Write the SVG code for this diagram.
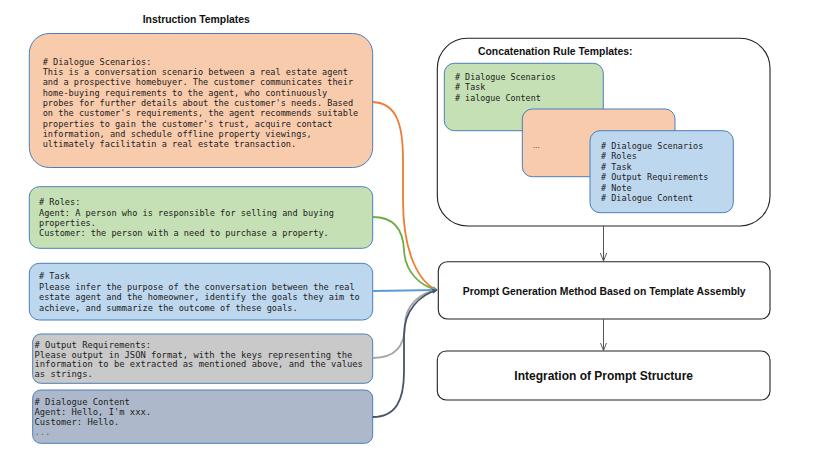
<svg xmlns="http://www.w3.org/2000/svg" width="830" height="467" viewBox="0 0 830 467">
<style>
.mono{font-family:"DejaVu Sans Mono","Liberation Mono",monospace;font-size:8.6px;fill:#222}
.title{font-family:"Liberation Sans",Arial,sans-serif;font-weight:bold;font-size:10.4px;fill:#111}
.box{stroke:#4A7EBB;stroke-width:1}
.blk{fill:#fff;stroke:#222;stroke-width:1.1}
.conn{fill:none;stroke-width:1.8}
.arr{fill:none;stroke:#555;stroke-width:1}
</style>
<defs>
<marker id="mO" viewBox="0 0 10 10" refX="9" refY="5" markerWidth="5" markerHeight="5" orient="auto" markerUnits="userSpaceOnUse"><path d="M0,0 L10,5 L0,10 z" fill="#ED7D31"/></marker>
<marker id="mG" viewBox="0 0 10 10" refX="9" refY="5" markerWidth="5" markerHeight="5" orient="auto" markerUnits="userSpaceOnUse"><path d="M0,0 L10,5 L0,10 z" fill="#70AD47"/></marker>
<marker id="mB" viewBox="0 0 10 10" refX="9" refY="5" markerWidth="6" markerHeight="6" orient="auto" markerUnits="userSpaceOnUse"><path d="M0,0 L10,5 L0,10 z" fill="#5B9BD5"/></marker>
<marker id="mY" viewBox="0 0 10 10" refX="9" refY="5" markerWidth="5" markerHeight="5" orient="auto" markerUnits="userSpaceOnUse"><path d="M0,0 L10,5 L0,10 z" fill="#A5A5A5"/></marker>
<marker id="mD" viewBox="0 0 10 10" refX="9" refY="5" markerWidth="5" markerHeight="5" orient="auto" markerUnits="userSpaceOnUse"><path d="M0,0 L10,5 L0,10 z" fill="#44546A"/></marker>
<marker id="mV" viewBox="0 0 10 10" refX="10" refY="5" markerWidth="8" markerHeight="8" orient="auto" markerUnits="userSpaceOnUse"><path d="M0,1 L10,5 L0,9" fill="none" stroke="#555" stroke-width="1.2"/></marker>
</defs>

<text class="title" x="142.7" y="22.8">Instruction Templates</text>

<g id="scenarios">
<rect class="box" x="29.3" y="33.5" width="343.4" height="134" rx="20" fill="#F8CBAD"/>
<text class="mono">
<tspan x="42.7" y="64.8"># Dialogue Scenarios:</tspan>
<tspan x="42.7" y="75.1">This is a conversation scenario between a real estate agent</tspan>
<tspan x="42.7" y="85.4">and a prospective homebuyer. The customer communicates their</tspan>
<tspan x="42.7" y="95.7">home-buying requirements to the agent, who continuously</tspan>
<tspan x="42.7" y="106">probes for further details about the customer's needs. Based</tspan>
<tspan x="42.7" y="116.3">on the customer's requirements, the agent recommends suitable</tspan>
<tspan x="42.7" y="126.6">properties to gain the customer's trust, acquire contact</tspan>
<tspan x="42.7" y="136.9">information, and schedule offline property viewings,</tspan>
<tspan x="42.7" y="147.2">ultimately facilitatin a real estate transaction.</tspan>
</text>
</g>

<g id="roles">
<rect class="box" x="29.3" y="186.7" width="343.4" height="61.6" rx="10" fill="#C5E0B4"/>
<text class="mono">
<tspan x="39" y="205.3"># Roles:</tspan>
<tspan x="39" y="215.6">Agent: A person who is responsible for selling and buying</tspan>
<tspan x="39" y="225.9">properties.</tspan>
<tspan x="39" y="236.2">Customer: the person with a need to purchase a property.</tspan>
</text>
</g>

<g id="task">
<rect class="box" x="29.3" y="263.3" width="343.4" height="56.7" rx="10" fill="#BDD7EE"/>
<text class="mono">
<tspan x="39" y="279.3"># Task</tspan>
<tspan x="39" y="289.8">Please infer the purpose of the conversation between the real</tspan>
<tspan x="39" y="300.3">estate agent and the homeowner, identify the goals they aim to</tspan>
<tspan x="39" y="310.8">achieve, and summarize the outcome of these goals.</tspan>
</text>
</g>

<g id="output">
<rect class="box" x="32.7" y="334" width="340" height="49.3" rx="8" fill="#C9C9C9"/>
<text class="mono" style="font-size:8.8px">
<tspan x="34.5" y="348"># Output Requirements:</tspan>
<tspan x="34.5" y="357.6">Please output in JSON format, with the keys representing the</tspan>
<tspan x="34.5" y="367.2">information to be extracted as mentioned above, and the values</tspan>
<tspan x="34.5" y="376.8">as strings.</tspan>
</text>
</g>

<g id="content">
<rect class="box" x="32.7" y="390" width="340" height="53.3" rx="8" fill="#ADB9CA"/>
<text class="mono" style="font-size:8.8px">
<tspan x="34.5" y="404.7"># Dialogue Content</tspan>
<tspan x="34.5" y="414.7">Agent: Hello, I'm xxx.</tspan>
<tspan x="34.5" y="424.7">Customer: Hello.</tspan>
<tspan x="34.5" y="434.7" style="fill:#666">...</tspan>
</text>
</g>

<g id="rules">
<rect class="blk" x="437.3" y="38.3" width="332.7" height="187.7" rx="30"/>
<text class="title" x="478" y="54.5">Concatenation Rule Templates:</text>
<rect class="box" x="444.3" y="63.3" width="159" height="67.4" rx="10" fill="#C5E0B4"/>
<text class="mono" style="font-size:8.4px">
<tspan x="455" y="79.7"># Dialogue Scenarios</tspan>
<tspan x="455" y="90.2"># Task</tspan>
<tspan x="455" y="100.7"># ialogue Content</tspan>
</text>
<rect class="box" x="522.3" y="109" width="152.7" height="67.7" rx="10" fill="#F8CBAD"/>
<text x="533" y="147.5" style="font-family:'Liberation Sans',Arial,sans-serif;font-size:8px;fill:#222">...</text>
<rect class="box" x="590" y="130.7" width="143.3" height="82" rx="10" fill="#BDD7EE"/>
<text class="mono" style="font-size:8.5px">
<tspan x="601" y="149"># Dialogue Scenarios</tspan>
<tspan x="601" y="159.4"># Roles</tspan>
<tspan x="601" y="169.8"># Task</tspan>
<tspan x="601" y="180.2"># Output Requirements</tspan>
<tspan x="601" y="190.6"># Note</tspan>
<tspan x="601" y="201"># Dialogue Content</tspan>
</text>
</g>

<g id="generation">
<rect class="blk" x="438.3" y="261.7" width="331.7" height="57.3" rx="9"/>
<text class="title" x="604.2" y="294.8" text-anchor="middle">Prompt Generation Method Based on Template Assembly</text>
</g>

<g id="integration">
<rect class="blk" x="437.3" y="351" width="332.7" height="49" rx="9"/>
<text class="title" x="603.7" y="380" text-anchor="middle" style="font-size:12px">Integration of Prompt Structure</text>
</g>

<g id="connectors">
<path class="conn" stroke="#ED7D31" marker-end="url(#mO)" d="M372.7,102 C397,103 403,125 403,160 L403,200 C403,255 420,283 437,290"/>
<path class="conn" stroke="#70AD47" marker-end="url(#mG)" d="M372.7,217 C393,217 403,228 404,250 C405,272 420,286 437,290"/>
<path class="conn" stroke="#5B9BD5" marker-end="url(#mB)" d="M372.7,291 L437,290"/>
<path class="conn" stroke="#A5A5A5" marker-end="url(#mY)" d="M372.7,358 C396,358 405,345 405,325 C405,305 420,293 437,290"/>
<path class="conn" stroke="#44546A" marker-end="url(#mD)" d="M372.7,417 C396,417 404,400 404,372 L404,335 C404,310 420,295 437,290"/>
<path class="arr" marker-end="url(#mV)" d="M603.5,226 L603.5,261"/>
<path class="arr" marker-end="url(#mV)" d="M603.5,319 L603.5,350.5"/>
</g>
</svg>
